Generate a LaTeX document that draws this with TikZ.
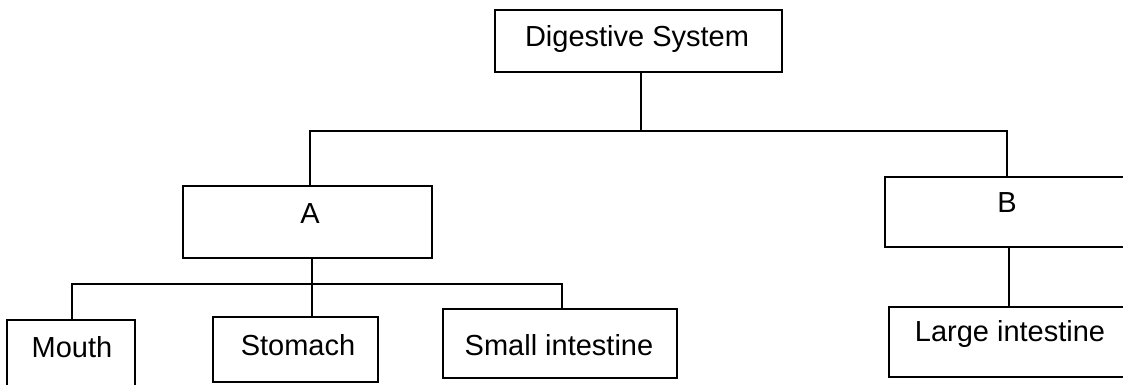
\documentclass[tikz,border=0pt]{standalone}
\usepackage{fontspec}
\setmainfont{Liberation Sans}
\begin{document}
\begin{tikzpicture}[x=1pt,y=-1pt,
  box/.style={draw=black, line width=1.6pt, rectangle, inner sep=0pt},
  lbl/.style={anchor=base, inner sep=0pt, font=\fontsize{29}{34}\selectfont},
  conn/.style={draw=black, line width=1.6pt}]
\useasboundingbox (0,0) rectangle (1123,385);
\fill[white] (0,0) rectangle (1123,385);
% boxes
\node[box, minimum width=287, minimum height=62] (DS) at (638.5,41) {};
\node[box, minimum width=249, minimum height=72] (A) at (307.5,222) {};
\node[box, minimum width=250, minimum height=70] (B) at (1010,212) {};
\node[box, minimum width=128, minimum height=80] (Mouth) at (71,360) {};
\node[box, minimum width=165, minimum height=65] (Stomach) at (295.5,349.5) {};
\node[box, minimum width=234, minimum height=69] (Small) at (560,343.5) {};
\node[box, minimum width=246, minimum height=70] (Large) at (1012,342) {};
% labels
\node[lbl] (tDS) at (637,47) {Digestive System};
\node[lbl] (tA) at (310,223) {A};
\node[lbl] (tB) at (1007,212) {B};
\node[lbl] (tMouth) at (72,357) {Mouth};
\node[lbl] (tStomach) at (298,355) {Stomach};
\node[lbl] (tSmall) at (559,355) {Small intestine};
\node[lbl] (tLarge) at (1010,341) {Large intestine};
% junctions
\coordinate (b1M) at (641,131);
\coordinate (b1L) at (310,131);
\coordinate (b1R) at (1007,131);
\coordinate (b2M) at (312,284);
\coordinate (b2L) at (72,284);
\coordinate (b2R) at (562,284);
\coordinate (b3) at (1009,250);
% connectors
\draw[conn] (b1M |- DS.south) -- (b1M);
\draw[conn] (b1L |- A.north) -- (b1L) -- (b1R) -- (b1R |- B.north);
\draw[conn] (b2M |- A.south) -- (b2M);
\draw[conn] (b2L |- Mouth.north) -- (b2L) -- (b2R) -- (b2R |- Small.north);
\draw[conn] (b2M) -- (b2M |- Stomach.north);
\draw[conn] (b3 |- B.south) -- (b3 |- Large.north);
\end{tikzpicture}
\end{document}
